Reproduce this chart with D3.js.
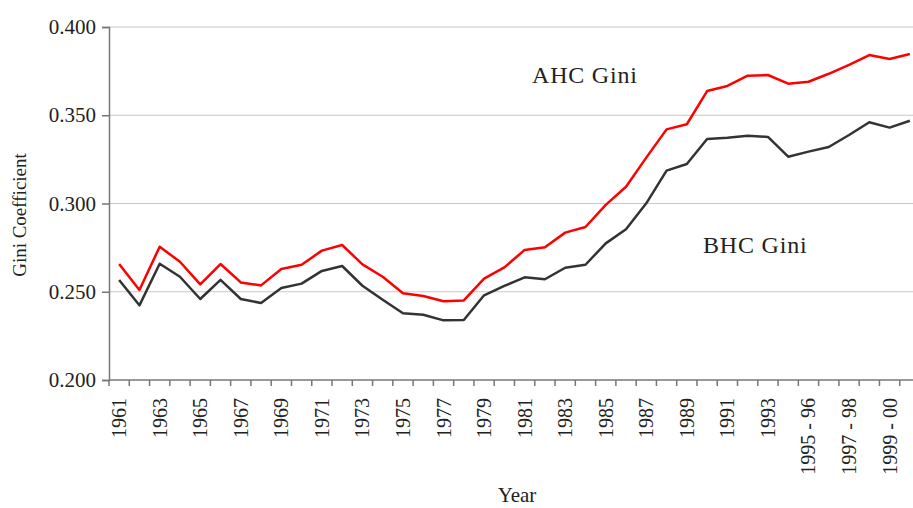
<!DOCTYPE html>
<html>
<head>
<meta charset="utf-8">
<script src="https://cdn.jsdelivr.net/npm/d3@7"></script>
<style>
  html, body { margin: 0; padding: 0; background: #fff; }
  svg { display: block; }
  text { font-family: "Liberation Serif", "Times New Roman", serif; fill: #222; }
</style>
</head>
<body>
<svg id="chart" width="913" height="508"></svg>
<script>
const categories = [
  "1961","1962","1963","1964","1965","1966","1967","1968","1969","1970",
  "1971","1972","1973","1974","1975","1976","1977","1978","1979","1980",
  "1981","1982","1983","1984","1985","1986","1987","1988","1989","1990",
  "1991","1992","1993","1994 - 95","1995 - 96","1996 - 97","1997 - 98","1998 - 99","1999 - 00","2000 - 01"
];
const ahcGini = [
  0.2657,0.2510,0.2755,0.2670,0.2542,0.2657,0.2553,0.2536,0.2629,0.2653,
  0.2733,0.2765,0.2655,0.2585,0.2491,0.2476,0.2446,0.2451,0.2574,0.2638,
  0.2737,0.2752,0.2835,0.2867,0.2992,0.3095,0.3260,0.3420,0.3449,0.3637,
  0.3666,0.3724,0.3728,0.3679,0.3690,0.3735,0.3785,0.3841,0.3819,0.3847
];
const bhcGini = [
  0.2567,0.2423,0.2659,0.2585,0.2459,0.2567,0.2459,0.2436,0.2521,0.2546,
  0.2618,0.2646,0.2534,0.2455,0.2378,0.2370,0.2338,0.2340,0.2480,0.2533,
  0.2582,0.2571,0.2636,0.2653,0.2774,0.2854,0.3001,0.3186,0.3224,0.3365,
  0.3373,0.3384,0.3377,0.3265,0.3294,0.3320,0.3388,0.3460,0.3430,0.3469
];
const yTicks = [0.200, 0.250, 0.300, 0.350, 0.400];
const seriesNames = ["AHC Gini", "BHC Gini"];

const svg = d3.select("#chart");
const mLeft = 109, mTop = 27, mBottom = 380, mRightBand = 920;
const serif = "'Liberation Serif', 'Times New Roman', serif";

const x = d3.scaleBand().domain(categories).range([mLeft, mRightBand]).padding(0);
const y = d3.scaleLinear().domain([0.2, 0.4]).range([mBottom, mTop]);
const cx = c => x(c) + x.bandwidth() / 2;

// gridlines
svg.append("g").selectAll("line")
  .data(yTicks.filter(d => d > 0.2))
  .join("line")
  .attr("x1", mLeft).attr("x2", 913)
  .attr("y1", d => y(d)).attr("y2", d => y(d))
  .attr("stroke", "#c8c8c8").attr("stroke-width", 1);

// y axis
const yAxis = svg.append("g").attr("transform", `translate(${mLeft},0)`)
  .call(d3.axisLeft(y).tickValues(yTicks).tickFormat(d3.format(".3f")).tickSize(7).tickPadding(6));
yAxis.attr("font-family", serif);
yAxis.select(".domain").attr("stroke", "#777").attr("stroke-width", 1.5);
yAxis.selectAll(".tick line").attr("stroke", "#777").attr("stroke-width", 1.5);
yAxis.selectAll(".tick text").attr("font-size", "21px").attr("fill", "#222")
  .style("font-family", serif);

// x axis line
svg.append("line").attr("x1", mLeft).attr("x2", 913).attr("y1", mBottom).attr("y2", mBottom)
  .attr("stroke", "#777").attr("stroke-width", 1.5);
// x ticks at band boundaries
svg.append("g").selectAll("line")
  .data(categories)
  .join("line")
  .attr("x1", d => x(d)).attr("x2", d => x(d))
  .attr("y1", mBottom).attr("y2", mBottom + 6)
  .attr("stroke", "#777").attr("stroke-width", 1.5);
// x tick labels (every other category)
svg.append("g").selectAll("text")
  .data(categories.filter((d, i) => i % 2 === 0))
  .join("text")
  .attr("transform", d => `translate(${cx(d) + 7},${mBottom + 18}) rotate(-90)`)
  .attr("text-anchor", "end")
  .attr("font-size", "20px")
  .style("font-family", serif)
  .text(d => d);

// lines
const line = d3.line().x((d, i) => cx(categories[i])).y(d => y(d));
svg.append("path").datum(bhcGini)
  .attr("d", line).attr("fill", "none").attr("stroke", "#333333").attr("stroke-width", 2.5)
  .attr("stroke-linejoin", "round");
svg.append("path").datum(ahcGini)
  .attr("d", line).attr("fill", "none").attr("stroke", "#ff0000").attr("stroke-width", 2.5)
  .attr("stroke-linejoin", "round");

// series labels
svg.append("text").attr("x", 532).attr("y", 83).attr("font-size", "24px")
  .attr("letter-spacing", "0.8px").style("font-family", serif).text(seriesNames[0]);
svg.append("text").attr("x", 703).attr("y", 253).attr("font-size", "24px")
  .attr("letter-spacing", "0.8px").style("font-family", serif).text(seriesNames[1]);

// axis titles
svg.append("text").attr("transform", "translate(26,215) rotate(-90)")
  .attr("text-anchor", "middle").attr("font-size", "19px").style("font-family", serif)
  .text("Gini Coefficient");
svg.append("text").attr("x", 517).attr("y", 502).attr("text-anchor", "middle")
  .attr("font-size", "21px").style("font-family", serif).text("Year");
</script>
</body>
</html>
